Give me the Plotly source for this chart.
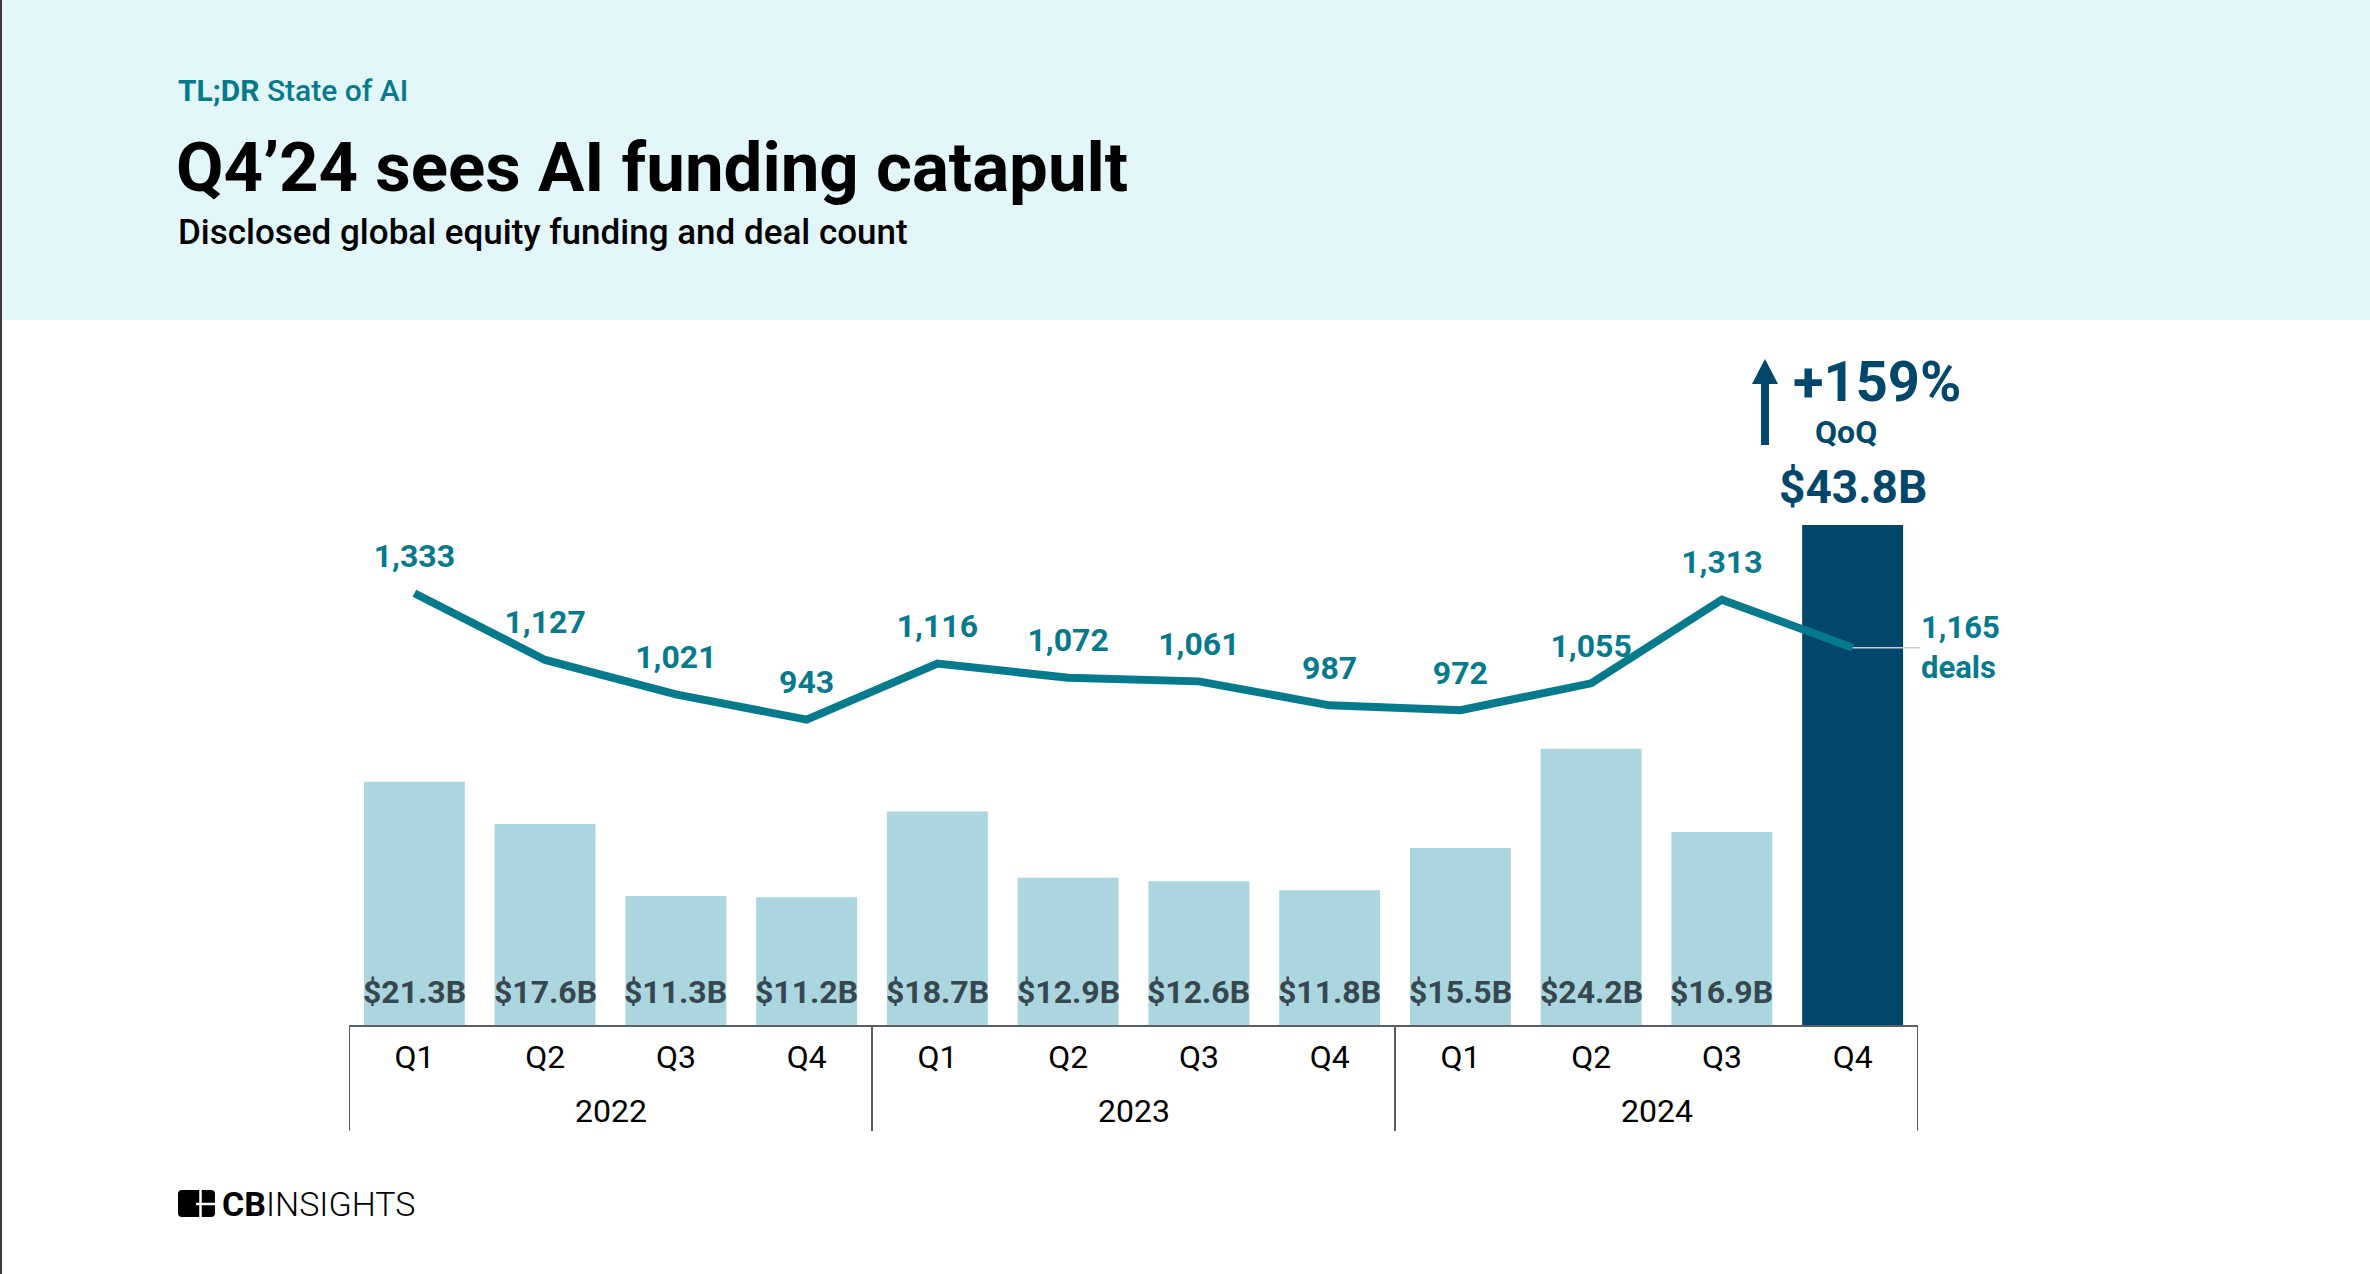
import plotly.graph_objects as go

# ---------------- data ----------------
years = ["2022", "2023", "2024"]
quarters = ["Q1", "Q2", "Q3", "Q4"] * 3
funding_b = [21.3, 17.6, 11.3, 11.2, 18.7, 12.9, 12.6, 11.8, 15.5, 24.2, 16.9, 43.8]
deals = [1333, 1127, 1021, 943, 1116, 1072, 1061, 987, 972, 1055, 1313, 1165]
qoq_change = "+159%"

# ---------------- geometry ----------------
W, H = 2370, 1274
L, R, T, B = 349, 1918, 340, 1025


def px(x):
    return (x - L) / (R - L)


def py(y):
    return (B - y) / (B - T)


def rounded_rect(x0, y0, x1, y1, r):
    return (f"M {px(x0 + r)} {py(y0)} L {px(x1 - r)} {py(y0)} "
            f"Q {px(x1)} {py(y0)} {px(x1)} {py(y0 + r)} L {px(x1)} {py(y1 - r)} "
            f"Q {px(x1)} {py(y1)} {px(x1 - r)} {py(y1)} L {px(x0 + r)} {py(y1)} "
            f"Q {px(x0)} {py(y1)} {px(x0)} {py(y1 - r)} L {px(x0)} {py(y0 + r)} "
            f"Q {px(x0)} {py(y0)} {px(x0 + r)} {py(y0)} Z")


TEAL = "#067A8D"
DARK = "#00476B"
LIGHT = "#ABD6DF"
LABEL = "#37474F"
AXIS = "#5A5F63"
FONT = "Roboto"

n = len(funding_b)
xi = list(range(n))
per_year = len(quarters) // len(years)

bar_colors = [LIGHT] * (n - 1) + [DARK]
line_text = [f"{v:,}" for v in deals[:-1]] + [""]

fig = go.Figure()
fig.add_bar(
    x=xi, y=funding_b, yaxis="y",
    marker=dict(color=bar_colors, line=dict(width=0)),
    hoverinfo="skip", showlegend=False,
)
fig.add_scatter(
    x=xi, y=deals, yaxis="y2",
    mode="lines+markers+text",
    line=dict(color=TEAL, width=8),
    marker=dict(size=28, color="rgba(0,0,0,0)"),
    text=line_text, textposition="top center",
    textfont=dict(family=FONT, size=32, color=TEAL, weight="bold"),
    cliponaxis=False, hoverinfo="skip", showlegend=False,
)

annotations = [
    dict(xref="paper", yref="paper", x=px(176), y=py(91), xanchor="left", yanchor="middle",
         text="<b>TL;DR</b> State of AI", showarrow=False,
         font=dict(family=FONT, size=30, color=TEAL, weight=500)),
    dict(xref="paper", yref="paper", x=px(174), y=py(167), xanchor="left", yanchor="middle",
         text="<b>Q4’24 sees AI funding catapult</b>", showarrow=False,
         font=dict(family=FONT, size=69, color="#000000")),
    dict(xref="paper", yref="paper", x=px(176), y=py(232), xanchor="left", yanchor="middle",
         text="Disclosed global equity funding and deal count", showarrow=False,
         font=dict(family=FONT, size=35, color="#000000", weight=500)),
    # Q4'24 funding label
    dict(xref="x", yref="y", x=xi[-1], y=funding_b[-1], xanchor="center", yanchor="bottom",
         yshift=9, text=f"<b>${funding_b[-1]}B</b>", showarrow=False,
         font=dict(family=FONT, size=46, color=DARK)),
    # QoQ change
    dict(xref="paper", yref="paper", x=px(1877), y=py(382), xanchor="center", yanchor="middle",
         text=f"<b>{qoq_change}</b>", showarrow=False,
         font=dict(family=FONT, size=56, color=DARK)),
    dict(xref="paper", yref="paper", x=px(1846), y=py(432), xanchor="center", yanchor="middle",
         text="<b>QoQ</b>", showarrow=False,
         font=dict(family=FONT, size=32, color=DARK)),
    # last deal count label with leader line
    dict(xref="x", yref="y2", x=xi[-1], y=deals[-1], xanchor="center", yanchor="middle",
         ax=108, ay=0, axref="pixel", ayref="pixel",
         text=f"<b>{deals[-1]:,}<br>deals</b>", align="left", showarrow=True,
         arrowhead=0, arrowwidth=1.5, arrowcolor="#C8CCCE", standoff=0,
         font=dict(family=FONT, size=31, color=TEAL)),
    # logo text
    dict(xref="paper", yref="paper", x=px(220), y=py(1204), xanchor="left", yanchor="middle",
         text="<b>CB</b><span style='font-weight:300'>INSIGHTS</span>", showarrow=False,
         font=dict(family=FONT, size=34, color="#000000")),
]

# funding labels at the foot of each light bar
for i, v in zip(xi[:-1], funding_b[:-1]):
    annotations.append(dict(xref="x", yref="y", x=i, y=0, xanchor="center", yanchor="bottom",
                            yshift=12, text=f"<b>${v}B</b>", showarrow=False,
                            font=dict(family=FONT, size=32, color=LABEL)))

# year group labels under the quarter ticks
for g, yr in enumerate(years):
    centre = sum(xi[g * per_year:(g + 1) * per_year]) / per_year
    annotations.append(dict(xref="x", yref="paper", x=centre, y=py(1111), xanchor="center",
                            yanchor="middle", text=yr, showarrow=False,
                            font=dict(family=FONT, size=32, color="#000000")))

shapes = [
    # header band
    dict(type="rect", xref="paper", yref="paper", x0=px(0), x1=px(W), y0=py(320), y1=py(0),
         fillcolor="#E3F6FA", line=dict(width=0), layer="below"),
    # left border
    dict(type="line", xref="paper", yref="paper", x0=px(1), x1=px(1), y0=py(0), y1=py(H),
         line=dict(color="#3A3A3A", width=2)),
    # arrow shaft + head
    dict(type="rect", xref="paper", yref="paper", x0=px(1761), x1=px(1769), y0=py(445), y1=py(380),
         fillcolor=DARK, line=dict(width=0)),
    dict(type="path", xref="paper", yref="paper",
         path=f"M {px(1752)} {py(384)} L {px(1778)} {py(384)} L {px(1765)} {py(359)} Z",
         fillcolor=DARK, line=dict(width=0)),
    # logo icon
    dict(type="path", xref="paper", yref="paper", path=rounded_rect(178, 1190, 215, 1217, 4),
         fillcolor="#000000", line=dict(width=0)),
    dict(type="line", xref="paper", yref="paper", x0=px(200.5), x1=px(200.5), y0=py(1218), y1=py(1189),
         line=dict(color="#FFFFFF", width=2.5)),
    dict(type="line", xref="paper", yref="paper", x0=px(196), x1=px(216), y0=py(1204), y1=py(1204),
         line=dict(color="#FFFFFF", width=2.5)),
]

# group dividers at year boundaries
for g in range(len(years) + 1):
    xb = g * per_year - 0.5
    shapes.append(dict(type="line", xref="x", yref="paper", x0=xb, x1=xb, y0=py(1025), y1=py(1131),
                       line=dict(color=AXIS, width=2)))

fig.update_layout(
    width=W, height=H, autosize=False,
    margin=dict(l=L, r=W - R, t=T, b=H - B, pad=0),
    paper_bgcolor="#FFFFFF", plot_bgcolor="#FFFFFF",
    bargap=0.228,
    font=dict(family=FONT, color="#000000"),
    xaxis=dict(
        range=[-0.5, n - 0.5], tickmode="array", tickvals=xi, ticktext=quarters,
        showline=True, linecolor=AXIS, linewidth=2,
        ticks="", showgrid=False, zeroline=False, ticklabelstandoff=3,
        tickfont=dict(family=FONT, size=32, color="#000000"), fixedrange=True,
    ),
    yaxis=dict(range=[0, 60.0], visible=False, fixedrange=True),
    yaxis2=dict(range=[0, 2115], overlaying="y", visible=False, fixedrange=True),
    annotations=annotations,
    shapes=shapes,
    showlegend=False,
)

fig.write_html(
    "out.html",
    config={"displayModeBar": False},
    post_script="document.body.style.margin='0px';document.body.style.overflow='hidden';",
)
